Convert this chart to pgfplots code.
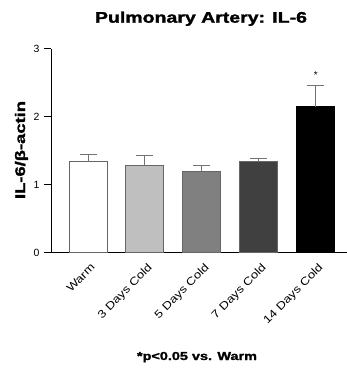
\documentclass[border=0pt]{standalone}
\usepackage{fontspec}
\setmainfont{Liberation Sans}
\newfontfamily\heavy[BoldFeatures={FakeBold=1.5}]{Liberation Sans}
\usepackage{pgfplots}
\pgfplotsset{compat=1.18}
\newcommand{\wide}[1]{\scalebox{1.2}[1]{#1}}
\begin{document}
\begin{tikzpicture}[x=1bp,y=1bp]
\path[use as bounding box] (0,0) rectangle (347,368);
\begin{axis}[
  at={(51bp,115bp)}, anchor=south west,
  scale only axis, width=296bp, height=204bp,
  xmin=-0.65, xmax=4.55, ymin=0, ymax=3,
  axis lines*=left,
  axis line style={line width=1bp, black},
  ytick={0,1,2,3},
  tick align=outside,
  major tick length=7bp,
  ytick style={line width=1bp, black},
  xtick={0,1,2,3,4},
  xtick style={draw=none},
  xticklabels={\wide{Warm},\wide{3 Days Cold},\wide{5 Days Cold},\wide{7 Days Cold},\wide{14 Days Cold}},
  x tick label style={rotate=45, anchor=north east, font=\fontsize{11}{13}\selectfont, xshift=3bp, yshift=0bp},
  y tick label style={font=\fontsize{10.5}{12}\selectfont, xshift=-1bp},
  /pgf/number format/assume math mode=true,
  ybar, bar width=38bp,
  clip=false,
  error bars/error bar style={line width=1bp, black!55},
  error bars/error mark options={rotate=90, mark size=8.5bp, line width=1bp, black!55},
]
\addplot[bar shift=0, fill=white, draw=black!60, line width=1bp,
  error bars/.cd, y dir=plus, y explicit]
  coordinates {(0,1.34) +- (0,0.105)};
\addplot[bar shift=0, fill=black!25, draw=black!60, line width=1bp,
  error bars/.cd, y dir=plus, y explicit]
  coordinates {(1,1.28) +- (0,0.15)};
\addplot[bar shift=0, fill=black!50, draw=black!60, line width=1bp,
  error bars/.cd, y dir=plus, y explicit]
  coordinates {(2,1.20) +- (0,0.08)};
\addplot[bar shift=0, fill=black!75, draw=black!60, line width=1bp,
  error bars/.cd, y dir=plus, y explicit]
  coordinates {(3,1.34) +- (0,0.05)};
\addplot[bar shift=0, fill=black, draw=black, line width=1bp,
  error bars/.cd, y dir=plus, y explicit]
  coordinates {(4,2.15) +- (0,0.31)};
\node[font=\fontsize{10}{12}\selectfont] at (axis cs:4,2.62) {*};
\end{axis}
\node[font=\heavy\bfseries\fontsize{15.4}{18}\selectfont, anchor=base, inner sep=0pt] at (201,345.3) {\resizebox{212bp}{\height}{Pulmonary Artery: IL-6}};
\node[font=\heavy\bfseries\fontsize{14}{16}\selectfont, rotate=90, anchor=base, inner sep=0pt] at (25,218) {\resizebox{98bp}{\height}{IL-6/β-actin}};
\node[font=\heavy\bfseries\fontsize{11.6}{14}\selectfont, anchor=base, inner sep=0pt] at (197,8) {\resizebox{120bp}{\height}{*p<0.05 vs. Warm}};
\end{tikzpicture}
\end{document}
